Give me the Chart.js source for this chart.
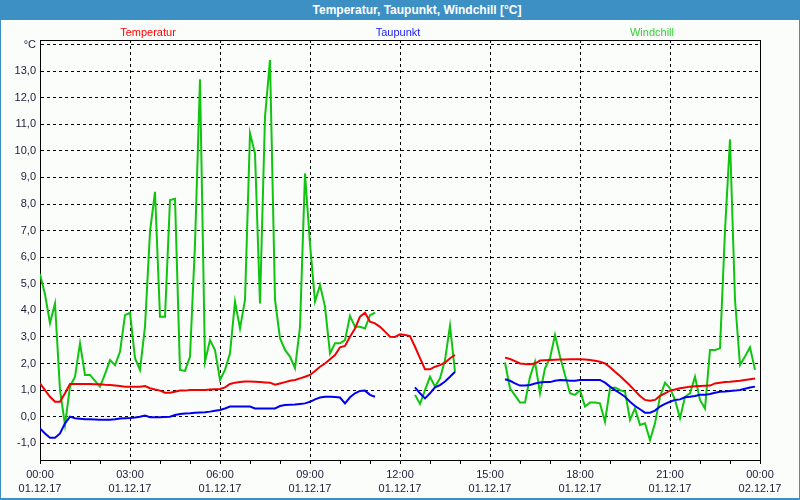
<!DOCTYPE html>
<html><head><meta charset="utf-8">
<script src="https://cdn.jsdelivr.net/npm/chart.js@4"></script>
<style>
html,body{margin:0;padding:0;background:#fbfdfb;}
#wrap{position:relative;width:800px;height:500px;overflow:hidden;background:#fbfdfb;font-family:'Liberation Sans',Arial,sans-serif;}
#chart{position:absolute;left:0;top:0;}
#title{position:absolute;left:0;top:0;width:800px;height:20px;background:#3d90c4;color:#fff;font-weight:bold;font-size:12px;line-height:20px;text-align:center;padding-left:34px;box-sizing:border-box;}
.leg{position:absolute;top:25px;font-size:11px;line-height:14px;transform:translateX(-50%);white-space:nowrap;}
.frame{position:absolute;background:#3d90c4;}
</style></head>
<body>
<div id="wrap">
  <canvas id="chart" width="800" height="500"></canvas>
  <div id="title">Temperatur, Taupunkt, Windchill [°C]</div>
  <div id="legend"></div>
  <div class="frame" style="left:0;top:0;width:1px;height:500px"></div>
  <div class="frame" style="left:799px;top:0;width:1px;height:500px"></div>
  <div class="frame" style="left:0;top:498px;width:800px;height:2px"></div>
</div>
<script>
// sampling grid: minutes since 01.12.17 00:00, every 10 minutes
const minutes = [];
for (let m = 0; m <= 1440; m += 10) minutes.push(m);

const seriesNames = ['Temperatur', 'Taupunkt', 'Windchill'];

const temperatur = [
  1.25,1.0,0.75,0.56,0.56,0.88,1.23,1.23,1.23,1.23,1.23,1.22,1.22,1.2,1.19,1.17,1.15,1.13,
  1.13,1.13,1.13,1.15,1.07,1.02,0.98,0.9,0.9,0.94,0.98,0.98,1.0,1.0,1.0,1.0,1.02,1.03,
  1.04,1.1,1.23,1.28,1.3,1.32,1.32,1.31,1.3,1.29,1.28,1.2,1.25,1.3,1.35,1.38,1.44,1.5,
  1.57,1.72,1.88,2.0,2.16,2.32,2.61,2.66,3.01,3.32,3.76,3.91,3.57,3.51,3.38,3.2,3.01,3.0,
  3.1,3.07,3.03,2.63,2.2,1.78,1.78,1.88,1.94,2.03,2.2,2.32,null,null,null,null,null,null,
  null,null,null,2.22,2.17,2.09,2.0,1.98,1.97,2.0,2.11,2.12,2.13,2.14,2.15,2.15,2.16,2.16,
  2.16,2.15,2.13,2.1,2.07,2.0,1.86,1.69,1.53,1.35,1.17,0.97,0.78,0.63,0.6,0.63,0.78,0.88,
  0.98,1.02,1.07,1.1,1.13,1.14,1.15,1.16,1.17,1.25,1.28,1.3,1.31,1.33,1.35,1.38,1.41,1.44,
  null
];

const taupunkt = [
  -0.44,-0.63,-0.79,-0.79,-0.63,-0.25,0.0,-0.06,-0.08,-0.1,-0.1,-0.11,-0.12,-0.12,-0.12,-0.1,-0.07,-0.06,
  -0.05,-0.03,0.0,0.04,-0.02,-0.02,-0.02,-0.01,0.0,0.06,0.1,0.12,0.13,0.15,0.16,0.17,0.19,0.22,
  0.25,0.31,0.38,0.38,0.38,0.38,0.38,0.31,0.31,0.31,0.31,0.31,0.4,0.44,0.45,0.46,0.48,0.5,
  0.56,0.65,0.72,0.75,0.75,0.74,0.72,0.5,0.73,0.88,0.97,0.98,0.82,0.75,null,null,null,null,
  null,null,null,1.1,0.88,0.69,0.88,1.1,1.19,1.32,1.5,1.69,null,null,null,null,null,null,
  null,null,null,1.41,1.35,1.25,1.17,1.17,1.19,1.25,1.29,1.3,1.3,1.35,1.38,1.37,1.35,1.35,
  1.38,1.38,1.38,1.38,1.38,1.28,1.13,1.0,0.88,0.75,0.56,0.4,0.28,0.15,0.15,0.23,0.38,0.48,
  0.56,0.63,0.65,0.73,0.75,0.78,0.82,0.82,0.85,0.9,0.94,0.95,0.97,0.98,1.0,1.05,1.1,1.13,
  null
];

const windchill = [
  5.37,4.6,3.52,4.26,1.0,-0.31,1.13,1.5,2.76,1.57,1.57,1.35,1.13,1.6,2.13,1.94,2.44,3.82,
  3.91,2.2,1.76,3.39,6.96,8.46,3.76,3.76,8.15,8.2,1.76,1.72,2.26,6.5,12.69,2.07,2.88,2.51,
  1.38,1.76,2.38,4.33,3.32,4.39,10.66,9.9,4.26,11.28,13.42,4.4,2.95,2.51,2.26,1.82,3.38,9.15,
  6.5,4.33,4.95,4.14,2.38,2.76,2.76,2.88,3.79,3.38,3.38,3.32,3.82,3.91,null,null,null,null,
  null,null,null,0.82,0.48,1.0,1.5,1.13,1.44,2.13,3.42,1.69,null,null,null,null,null,null,
  null,null,null,2.04,1.07,0.8,0.53,0.53,1.5,2.07,0.88,1.82,2.2,3.07,2.26,1.57,0.88,0.82,
  1.0,0.38,0.53,0.53,0.5,-0.19,1.07,1.1,1.0,0.94,-0.12,0.31,-0.31,-0.25,-0.88,-0.25,0.75,1.28,
  1.07,0.63,-0.06,0.75,0.88,1.5,0.63,0.31,2.51,2.51,2.57,7.0,10.43,4.4,1.94,2.26,2.61,1.76,
  null
];

// x tick labels, every 3 hours
const hourLabels = ['00:00','03:00','06:00','09:00','12:00','15:00','18:00','21:00','00:00'];
const dateLabels = ['01.12.17','01.12.17','01.12.17','01.12.17','01.12.17','01.12.17','01.12.17','01.12.17','02.12.17'];
// y ticks
const yTickValues = [-1,0,1,2,3,4,5,6,7,8,9,10,11,12,13,14];
const yUnitLabel = '°C';
const yMin = -1.63, yMax = 14.17;

const colors = ['#f00000', '#0000f0', '#10c410'];
const legendColors = ['#ff0000', '#1a1aff', '#33d033'];
const seriesValues = [temperatur, taupunkt, windchill];

const textColor = '#1c1c3a';
const tickFont = {family: "'Liberation Sans', Arial, sans-serif", size: 11, lineHeight: 1.36};

const frame = {
  id: 'frame',
  afterDraw(chart) {
    const {ctx, chartArea: a} = chart;
    ctx.save();
    ctx.strokeStyle = '#000';
    ctx.lineWidth = 1;
    ctx.beginPath();
    ctx.moveTo(Math.round(a.left), Math.round(a.top) + 0.5);
    ctx.lineTo(Math.round(a.right) + 1, Math.round(a.top) + 0.5);
    ctx.moveTo(Math.round(a.right) + 0.5, Math.round(a.top));
    ctx.lineTo(Math.round(a.right) + 0.5, Math.round(a.bottom) + 1);
    ctx.stroke();
    ctx.restore();
  }
};

const chart = new Chart(document.getElementById('chart'), {
  type: 'line',
  data: {
    datasets: seriesNames.map((name, k) => ({
      label: name,
      data: minutes.map((m, i) => ({x: m, y: seriesValues[k][i]})),
      borderColor: colors[k],
      backgroundColor: colors[k],
      borderWidth: 2,
      pointRadius: 0,
      tension: 0,
      spanGaps: false,
      fill: false
    }))
  },
  options: {
    responsive: false,
    animation: false,
    layout: {padding: {top: 40, right: 40, bottom: 0, left: 0}},
    plugins: {legend: {display: false}, title: {display: false}, tooltip: {enabled: false}},
    scales: {
      x: {
        type: 'linear',
        min: 0,
        max: 1440,
        afterFit(s) { s.height = 40; },
        ticks: {
          stepSize: 60,
          autoSkip: false,
          maxRotation: 0,
          minRotation: 0,
          padding: 3,
          color: textColor,
          font: tickFont,
          callback(v) {
            return v % 180 === 0 ? [hourLabels[v / 180], dateLabels[v / 180]] : '';
          }
        },
        grid: {
          color: ctx => (ctx.tick && ctx.tick.value % 180 === 0) ? '#000' : 'rgba(0,0,0,0)',
          lineWidth: 1,
          tickColor: '#000',
          tickLength: 4,
          tickBorderDash: [],
          drawTicks: true
        },
        border: {display: true, color: '#000', width: 1, dash: [3, 3]}
      },
      y: {
        type: 'linear',
        min: yMin,
        max: yMax,
        afterFit(s) { s.width = 40; },
        afterBuildTicks(s) { s.ticks = yTickValues.map(v => ({value: v})); },
        ticks: {
          padding: 4,
          color: textColor,
          font: tickFont,
          callback(v) { return v === 14 ? yUnitLabel : v.toFixed(1).replace('.', ','); }
        },
        grid: {color: '#000', lineWidth: 1, drawTicks: false},
        border: {display: true, color: '#000', width: 1, dash: [3, 3]}
      }
    }
  },
  plugins: [frame]
});

// legend built from the datasets
const legendCenters = [148, 398, 652];
const legend = document.getElementById('legend');
chart.data.datasets.forEach((ds, k) => {
  const s = document.createElement('span');
  s.className = 'leg';
  s.textContent = ds.label;
  s.style.color = legendColors[k];
  s.style.left = legendCenters[k] + 'px';
  legend.appendChild(s);
});
</script>
</body></html>
